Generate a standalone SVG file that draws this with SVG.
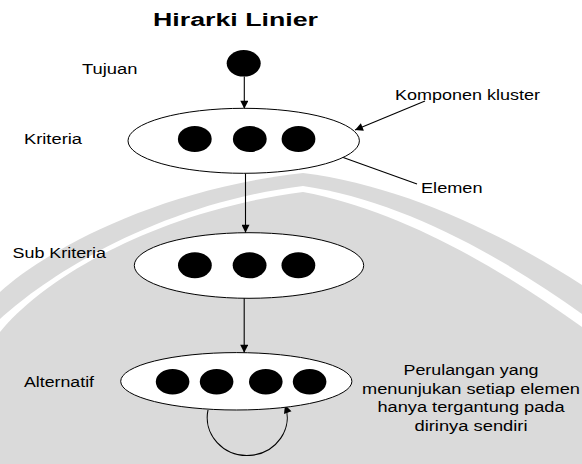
<svg xmlns="http://www.w3.org/2000/svg" width="582" height="464" viewBox="0 0 582 464">
  <style>
    .lbl { font-family: "Liberation Sans", Arial, sans-serif; font-size: 14px; fill: #000; }
    .title { font-family: "Liberation Sans", Arial, sans-serif; font-size: 18px; font-weight: bold; fill: #000; }
    .cluster { fill: #fff; stroke: #000; stroke-width: 1; }
    .elem { fill: #000; }
    .link { fill: none; stroke: #000; stroke-width: 1.1; }
    .band { fill: #dadada; }
    .gap { fill: #fff; }
  </style>
  <defs>
    <marker id="head" viewBox="0 0 10 10" refX="10" refY="5" markerWidth="9" markerHeight="8" markerUnits="userSpaceOnUse" orient="auto">
      <path d="M0,0 L10,5 L0,10 z" fill="#000"/>
    </marker>
  </defs>

  <!-- background arch -->
  <rect width="582" height="464" fill="#fff"/>
  <g id="arch">
    <path class="band" d="M0,292 C40,255 150,190 303,173 C400,185 500,232 582,285 L582,464 L0,464 Z"/>
    <path class="gap" d="M0,319 C40,282 150,205 303,186 C400,200 500,255 582,314 L582,464 L0,464 Z"/>
    <path class="band" d="M0,332 C40,282 150,212 303,192 C400,210 500,268 582,327 L582,464 L0,464 Z"/>
  </g>

  <text class="title" x="153" y="26" textLength="165" lengthAdjust="spacingAndGlyphs">Hirarki Linier</text>

  <!-- connectors -->
  <g id="connectors">
    <path class="link" d="M244.3,76.5 L244.3,108.8" marker-end="url(#head)"/>
    <path class="link" d="M425,101 L355,130" marker-end="url(#head)"/>
    <path class="link" d="M417,184 L314,147" marker-end="url(#head)"/>
    <path class="link" d="M245.5,173.5 L245.5,232.8" marker-end="url(#head)"/>
    <path class="link" d="M244.2,298 L244.2,352.8" marker-end="url(#head)"/>
    <path class="link" d="M208,410 A40,38 0 1 0 285,405" marker-end="url(#head)"/>
  </g>

  <!-- goal -->
  <g id="goal">
    <ellipse class="elem" cx="243.7" cy="63.3" rx="17" ry="13.3"/>
    <text class="lbl" x="82" y="74" textLength="55.5" lengthAdjust="spacingAndGlyphs">Tujuan</text>
  </g>

  <!-- criteria cluster -->
  <g id="criteria">
    <ellipse class="cluster" cx="243.7" cy="140.8" rx="115.7" ry="32.5"/>
    <ellipse class="elem" cx="194.8" cy="139" rx="16.9" ry="13"/>
    <ellipse class="elem" cx="249.8" cy="139" rx="16.9" ry="13"/>
    <ellipse class="elem" cx="298.5" cy="139" rx="16.9" ry="13"/>
    <text class="lbl" x="24" y="143.5" textLength="58" lengthAdjust="spacingAndGlyphs">Kriteria</text>
  </g>

  <g id="note-cluster">
    <text class="lbl" x="395" y="100" textLength="145" lengthAdjust="spacingAndGlyphs">Komponen kluster</text>
  </g>
  <g id="note-element">
    <text class="lbl" x="421" y="192.5" textLength="61.5" lengthAdjust="spacingAndGlyphs">Elemen</text>
  </g>

  <!-- sub-criteria cluster -->
  <g id="subcriteria">
    <ellipse class="cluster" cx="249" cy="265.5" rx="114.7" ry="32.8"/>
    <ellipse class="elem" cx="194.9" cy="265.3" rx="16.9" ry="13"/>
    <ellipse class="elem" cx="249.6" cy="265.3" rx="16.9" ry="13"/>
    <ellipse class="elem" cx="298.4" cy="265.3" rx="16.9" ry="13"/>
    <text class="lbl" x="12.5" y="257.5" textLength="93.5" lengthAdjust="spacingAndGlyphs">Sub Kriteria</text>
  </g>

  <!-- alternatives cluster -->
  <g id="alternatives">
    <ellipse class="cluster" cx="236.3" cy="381.3" rx="115.6" ry="28.7"/>
    <ellipse class="elem" cx="172.6" cy="381.7" rx="16.8" ry="12.8"/>
    <ellipse class="elem" cx="216.6" cy="381.7" rx="16.8" ry="12.8"/>
    <ellipse class="elem" cx="265.8" cy="381.7" rx="16.8" ry="12.8"/>
    <ellipse class="elem" cx="309.6" cy="381.7" rx="16.8" ry="12.8"/>
    <text class="lbl" x="24" y="386.5" textLength="70" lengthAdjust="spacingAndGlyphs">Alternatif</text>
  </g>

  <g id="note-loop">
    <text class="lbl" x="471" y="375" text-anchor="middle" textLength="135" lengthAdjust="spacingAndGlyphs">Perulangan yang</text>
    <text class="lbl" x="471" y="393.5" text-anchor="middle" textLength="218" lengthAdjust="spacingAndGlyphs">menunjukan setiap elemen</text>
    <text class="lbl" x="471" y="412" text-anchor="middle" textLength="187" lengthAdjust="spacingAndGlyphs">hanya tergantung pada</text>
    <text class="lbl" x="471" y="430.5" text-anchor="middle" textLength="113" lengthAdjust="spacingAndGlyphs">dirinya sendiri</text>
  </g>
</svg>
